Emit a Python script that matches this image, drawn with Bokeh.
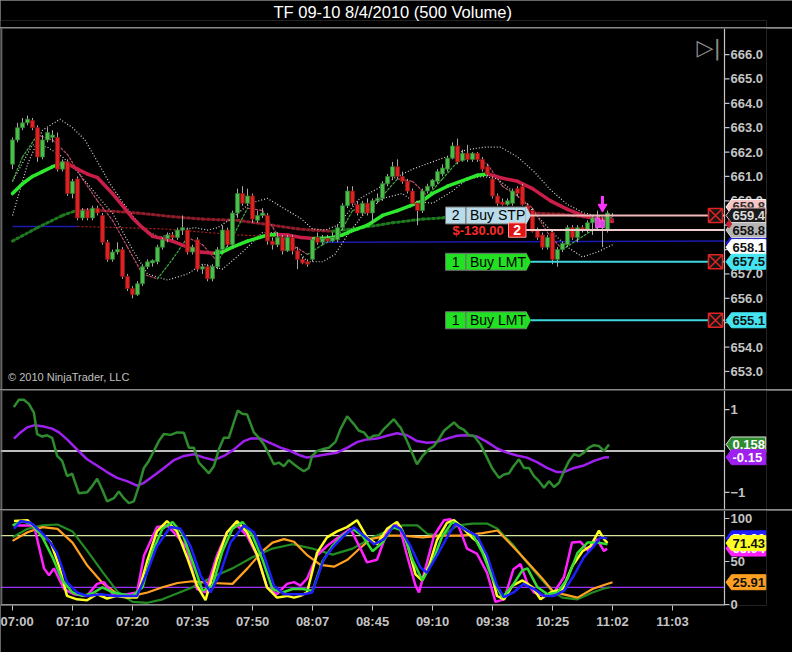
import math
from bokeh.plotting import figure
from bokeh.layouts import column
from bokeh.models import Range1d, FixedTicker, NumeralTickFormatter, Label, Span
from bokeh.core.properties import value
from bokeh.embed import file_html
from bokeh.resources import INLINE

TITLE = "TF 09-10  8/4/2010 (500 Volume)"

# ---------------- price bars (bar index 0..120) ----------------
bar_open = [661.5, 662.5, 663.0, 663.2, 663.3, 663.0, 661.8, 662.5, 662.6, 662.6,
            661.3, 661.6, 660.3, 660.9, 659.3, 659.6, 659.3, 659.7, 659.4, 658.3,
            657.6, 657.9, 658.0, 656.9, 656.4, 656.15, 656.6, 657.3, 657.45, 657.5,
            658.1, 658.45, 658.6, 658.5, 658.8, 658.8, 657.9, 658.4, 657.2, 657.3,
            656.8, 657.3, 658.0, 658.8, 658.2, 659.5, 660.3, 659.9, 660.2, 659.2,
            659.4, 659.4, 658.35, 658.2, 658.5, 657.95, 658.5, 657.95, 657.6, 657.5,
            657.6, 658.5, 658.3, 658.45, 658.35, 658.4, 658.9, 659.8, 660.4, 659.85,
            659.5, 659.9, 659.5, 660.0, 660.1, 660.7, 661.0, 661.4, 661.0, 660.8,
            660.4, 659.9, 659.6, 660.4, 660.6, 660.8, 661.1, 661.3, 661.75, 662.25,
            661.65, 661.95, 661.7, 661.95, 661.7, 661.4, 660.9, 660.2, 659.95, 659.85,
            659.9, 660.5, 660.6, 659.8, 659.6, 658.8, 658.6, 658.1, 658.7, 657.6,
            658.0, 658.2, 658.9, 658.5, 658.9, 658.8, 659.1, 659.3, 658.9, 658.8,
            659.4]
bar_high = [662.6, 663.2, 663.4, 663.5, 663.4, 663.1, 662.7, 663.0, 662.9, 662.8,
            661.7, 661.7, 660.9, 661.0, 659.7, 659.7, 659.8, 659.8, 659.5, 658.4,
            658.0, 658.3, 658.1, 657.0, 656.5, 656.7, 657.4, 657.6, 657.6, 658.2,
            658.5, 658.7, 658.7, 658.9, 659.4, 658.9, 658.2, 658.5, 657.4, 657.4,
            657.4, 658.1, 659.0, 658.9, 659.6, 660.5, 660.6, 660.5, 660.3, 659.6,
            659.7, 659.5, 658.5, 658.7, 658.6, 658.6, 658.6, 658.1, 657.7, 657.6,
            658.5, 658.7, 658.6, 658.6, 658.7, 659.0, 659.9, 660.6, 660.6, 660.0,
            660.0, 660.1, 660.1, 660.3, 660.8, 661.1, 661.6, 661.7, 661.2, 660.9,
            660.5, 660.0, 660.5, 660.7, 660.9, 661.3, 661.5, 661.8, 662.4, 662.55,
            662.1, 662.3, 662.0, 662.0, 661.8, 661.5, 661.0, 660.3, 660.1, 660.1,
            660.5, 660.6, 660.7, 659.9, 659.7, 658.9, 658.7, 658.6, 658.8, 658.1,
            658.3, 659.0, 659.0, 659.0, 659.0, 659.2, 659.4, 659.6, 659.3, 659.6,
            659.5]
bar_low = [661.3, 662.4, 662.9, 663.1, 662.9, 661.6, 661.7, 662.4, 662.4, 661.2,
           661.2, 660.2, 660.1, 659.2, 659.2, 659.2, 659.2, 659.4, 658.2, 657.5,
           657.5, 657.8, 656.8, 656.3, 656.0, 656.1, 656.5, 657.2, 657.3, 657.4,
           658.0, 658.3, 658.4, 658.4, 658.6, 657.8, 657.8, 657.1, 657.0, 656.7,
           656.7, 657.2, 657.9, 658.1, 658.1, 659.3, 659.8, 659.8, 659.1, 659.1,
           659.3, 658.2, 658.0, 658.1, 657.8, 657.9, 657.8, 657.2, 657.4, 657.3,
           657.5, 658.2, 658.2, 658.3, 658.3, 658.3, 658.8, 659.7, 659.8, 659.4,
           659.4, 659.4, 659.1, 659.9, 660.0, 660.6, 660.9, 660.9, 660.7, 660.3,
           659.8, 659.0, 659.5, 660.3, 660.5, 660.7, 661.0, 661.2, 661.7, 661.5,
           661.6, 661.6, 661.6, 661.6, 661.2, 661.0, 660.1, 659.8, 659.8, 659.8,
           659.8, 660.2, 659.8, 659.2, 658.7, 658.4, 658.0, 658.0, 657.4, 657.3,
           657.9, 658.1, 658.4, 658.3, 658.7, 658.7, 658.6, 658.8, 658.1, 658.7,
           659.35]
bar_close = [662.5, 663.0, 663.2, 663.35, 663.0, 661.8, 662.5, 662.8, 662.7, 661.3,
             661.6, 660.3, 660.8, 659.3, 659.6, 659.3, 659.7, 659.5, 658.3, 657.6,
             657.9, 658.0, 656.9, 656.4, 656.15, 656.6, 657.3, 657.5, 657.55, 658.1,
             658.4, 658.6, 658.5, 658.8, 658.9, 657.9, 658.1, 657.2, 657.3, 656.8,
             657.3, 658.0, 658.8, 658.2, 659.5, 660.3, 659.9, 660.2, 659.25, 659.4,
             659.5, 658.35, 658.2, 658.5, 657.95, 658.5, 657.95, 657.6, 657.45, 657.4,
             658.4, 658.3, 658.45, 658.35, 658.5, 658.9, 659.8, 660.4, 659.9, 659.5,
             659.9, 659.5, 660.0, 660.1, 660.7, 661.0, 661.4, 661.0, 660.8, 660.4,
             659.9, 659.6, 660.4, 660.6, 660.85, 661.2, 661.35, 661.75, 662.25, 661.6,
             661.95, 661.7, 661.95, 661.7, 661.3, 661.1, 660.2, 659.9, 659.85, 660.0,
             660.4, 660.3, 659.85, 659.3, 658.75, 658.5, 658.1, 658.5, 657.6, 658.0,
             658.25, 658.9, 658.5, 658.9, 658.8, 659.1, 659.3, 658.9, 659.2, 659.5,
             659.4]
highlight_bars = [117, 118]

# thick slope-coloured moving average
ma_x = [0, 2, 4, 6, 8, 10, 11, 13, 15, 17, 20, 22, 24, 26, 28, 30, 32, 35, 37.5, 40.5,
        42, 44, 47, 51, 53, 55, 57.6, 60.3, 62, 64, 66, 67.6, 69, 71, 74, 77, 79.6, 82,
        84, 87, 91, 93, 95, 97.6, 101, 104, 107.6, 111, 114, 117.6, 120]
ma_y = [660.3, 660.7, 661.0, 661.2, 661.4, 661.55, 661.52, 661.3, 661.1, 660.95, 660.3,
        659.8, 659.3, 658.9, 658.55, 658.45, 658.35, 658.1, 657.9, 657.85, 657.9, 658.1,
        658.35, 658.6, 658.62, 658.6, 658.5, 658.45, 658.46, 658.5, 658.6, 658.75, 658.85,
        659.0, 659.4, 659.6, 659.8, 660.0, 660.3, 660.6, 660.9, 661.05, 661.1, 660.95,
        660.8, 660.5, 660.0, 659.65, 659.4, 659.2, 659.15]
# thick dotted slow average
dma_x = [0, 5, 10, 13, 18, 25, 32, 38, 45, 52, 57, 60, 64, 70, 76, 82, 86, 90, 94, 98,
         104, 110, 116, 120]
dma_y = [658.35, 658.9, 659.4, 659.62, 659.6, 659.5, 659.35, 659.25, 659.2, 659.0, 658.85,
         658.8, 658.75, 658.9, 659.1, 659.25, 659.3, 659.45, 659.55, 659.6, 659.5, 659.45,
         659.3, 659.25]
# thin dotted fast average
fma_x = [0, 2, 5, 8, 11, 14, 17, 20, 23, 26, 29, 32, 35, 38, 41, 44, 47, 50, 53, 56, 59,
         62, 65, 68, 71, 74, 77, 80, 83, 86, 89, 92, 95, 98, 101, 104, 107, 110, 113, 116, 119]
fma_y = [660.8, 661.8, 662.7, 662.5, 661.9, 660.9, 660.0, 659.2, 658.1, 657.0, 656.8, 657.6,
         658.5, 658.2, 657.5, 658.5, 659.7, 659.6, 658.6, 658.2, 657.8, 658.2, 658.5, 659.6,
         659.8, 660.2, 660.9, 660.8, 660.2, 660.9, 661.6, 661.8, 661.5, 660.6, 660.2, 659.7,
         658.7, 658.0, 658.4, 658.8, 659.1]
# envelope bands
ub_x = [0, 3, 6, 9.5, 12, 14.5, 17, 19.5, 21.5, 24, 26.5, 29.5, 33.5, 36.5, 39, 41, 44,
        47.5, 51, 55, 57.5, 60, 62.5, 65, 67, 69.5, 73, 76.5, 80, 84, 88, 91, 94.3, 97.6,
        101, 104.3, 107.6, 111, 114.3, 117.6, 120]
ub_y = [659.4, 661.5, 662.9, 663.35, 663.0, 662.5, 661.6, 660.7, 660.1, 659.4, 658.8, 658.5,
        658.8, 658.9, 658.8, 658.9, 659.3, 659.9, 660.1, 659.6, 659.3, 658.85, 658.8, 659.0,
        659.5, 660.1, 660.5, 660.95, 661.3, 661.6, 661.9, 662.1, 662.2, 662.2, 661.8, 661.2,
        660.45, 659.85, 659.5, 659.35, 659.3]
lb_x = [0, 4, 7, 10, 13, 17, 20, 24, 27, 31, 35, 38, 42, 46, 50, 53, 56, 59, 62, 64.5, 67,
        70, 74, 78, 80, 84, 88, 91, 94, 97, 100, 104, 108, 111, 114, 117, 120]
lb_y = [660.8, 662.3, 662.2, 661.8, 661.2, 660.2, 659.5, 658.0, 657.0, 656.75, 657.0, 657.4,
        657.2, 657.9, 658.7, 658.7, 658.2, 657.5, 657.5, 657.8, 658.6, 659.4, 660.1, 660.3,
        660.0, 659.9, 660.4, 660.9, 661.0, 660.9, 660.4, 659.6, 658.7, 658.1, 657.7, 657.9,
        658.2]
# thin blue / red dotted reference lines
blue_xs = [[0, 13], [62, 142.4]]
blue_ys = [[658.95, 658.95], [658.3, 658.35]]
rd_x = [13, 30, 45, 62]
rd_y = [658.95, 658.85, 658.6, 658.45]

# orders / position
order_prices = [659.4, 657.5, 655.1]
order_qty = [2, 1, 1]
order_types = ["Buy STP", "Buy LMT", "Buy LMT"]
position_price = 658.8
position_qty = 2
position_pnl = -130.00
entry_bar = 118
entry_price = 659.75
hidden_tag = 659.75
blue_tag = 658.25
last_tag = 658.1
marker_price = 659.05

time_ticks = [0, 12, 24, 36, 48, 60, 72, 84, 96, 108, 120, 132]
time_labels = ["07:00", "07:10", "07:20", "07:35", "07:50", "08:07", "08:45",
               "09:10", "09:38", "10:25", "11:02", "11:03"]
price_ticks = [653.0, 654.0, 655.0, 656.0, 657.0, 658.0, 659.0, 660.0, 661.0,
               662.0, 663.0, 664.0, 665.0, 666.0]

# ---------------- oscillator panel ----------------
osc_x = [0.27, 1.27, 2.27, 3.27, 4.27, 4.93, 5.93, 6.93, 7.93, 8.93, 9.93, 10.93, 11.93,
         13.27, 14.93, 15.93, 16.93, 17.93, 18.93, 20.27, 21.27, 22.27, 23.27, 24.27, 25.27,
         26.27, 27.27, 28.27, 29.27, 30.27, 31.6, 32.93, 34.27, 35.27, 36.27, 37.27, 38.27,
         39.27, 40.27, 41.27, 42.27, 43.27, 44.27, 45.07, 45.93, 46.93, 48.27, 49.27, 50.27,
         51.27, 52.27, 53.27, 54.27, 55.27, 56.27, 57.27, 58.27, 59.27, 59.93, 60.93, 61.93,
         63.27, 64.6, 65.6, 66.93, 68.27, 69.27, 70.27, 71.27, 72.27, 73.27, 74.27, 75.27,
         76.27, 77.27, 77.6, 78.9, 79.9, 80.9, 82.0, 83.3, 84.3, 85.3, 86.3, 88.3, 89.3,
         90.3, 91.3, 92.3, 93.6, 94.9, 95.9, 97.3, 98.3, 99.3, 100.2, 101.3, 102.3, 103.3,
         104.3, 105.3, 106.3, 107.3, 108.3, 109.3, 110.3, 111.3, 112.3, 113.3, 114.3, 115.3,
         116.3, 117.3, 118.3, 119.3]
osc_y = [1.06, 1.24, 1.24, 1.14, 0.93, 0.41, 0.35, 0.38, 0.32, -0.12, -0.24, -0.61, -0.55,
         -1.02, -1.0, -0.85, -0.67, -0.93, -1.22, -1.14, -0.98, -1.14, -1.26, -1.22, -0.85,
         -0.41, -0.24, 0.0, 0.24, 0.41, 0.39, 0.45, 0.44, 0.08, 0.08, -0.28, -0.41, -0.54,
         -0.37, 0.04, 0.32, 0.32, 0.69, 0.98, 0.9, 0.88, 0.45, 0.32, 0.16, -0.08, -0.32,
         -0.28, -0.37, -0.22, -0.32, -0.41, -0.49, -0.41, -0.12, 0.0, 0.04, 0.08, 0.22, 0.53,
         0.84, 0.65, 0.49, 0.45, 0.30, 0.37, 0.38, 0.53, 0.65, 0.77, 0.61, 0.57, 0.24, -0.04,
         -0.32, -0.12, 0.04, 0.12, 0.29, 0.49, 0.69, 0.57, 0.51, 0.38, 0.37, 0.16, -0.16,
         -0.41, -0.65, -0.57, -0.54, -0.37, -0.2, -0.41, -0.41, -0.61, -0.73, -0.89, -0.73,
         -0.87, -0.77, -0.49, -0.24, -0.08, -0.12, -0.04, 0.08, 0.14, 0.12, 0.0, 0.158]
sig_x = [0.3, 1.6, 2.9, 4.3, 6.3, 7.9, 9.3, 10.9, 12.9, 14.9, 16.9, 18.9, 20.9, 22.9, 24.9,
         26.3, 28.3, 30.3, 32.3, 34.3, 36.3, 38.3, 40.3, 42.3, 44.3, 46.3, 47.6, 49.6, 51.6,
         53.6, 55.6, 57.6, 58.9, 60.9, 62.9, 64.9, 67, 69, 70.9, 72.9, 74.9, 76.9, 78.9,
         80.9, 82.9, 84.9, 86.9, 88.9, 90.9, 92.9, 94.9, 96.9, 98.9, 100.9, 102.9, 104.9,
         106.9, 108.9, 110.3, 112.3, 114.3, 116.3, 118.3, 119.3]
sig_y = [0.30, 0.45, 0.57, 0.62, 0.59, 0.54, 0.45, 0.28, 0.04, -0.2, -0.35, -0.51, -0.65,
         -0.73, -0.84, -0.77, -0.59, -0.41, -0.22, -0.12, -0.08, -0.16, -0.22, -0.12, 0.04,
         0.24, 0.30, 0.30, 0.19, 0.08, 0.0, -0.11, -0.16, -0.12, -0.08, -0.04, 0.08, 0.22,
         0.28, 0.30, 0.37, 0.43, 0.38, 0.24, 0.20, 0.22, 0.30, 0.37, 0.38, 0.35, 0.22, 0.06,
         -0.04, -0.11, -0.16, -0.27, -0.41, -0.51, -0.51, -0.41, -0.35, -0.24, -0.16, -0.15]
osc_levels = [0]
osc_ticks = [-1, 1]

# ---------------- stochastics panel ----------------
blue_x = [0.3, 1.6, 3.6, 5.6, 7.6, 8.9, 10.9, 12.9, 14.9, 17.6, 20.3, 22.9, 24.9, 26.9, 28.9,
          31.6, 33.6, 35.6, 37.6, 39.6, 41.6, 43.6, 46.3, 48.3, 50.3, 52.3, 54.3, 56.3, 58.3,
          59.9, 62.3, 64.3, 66.3, 68.3, 70.3, 72.3, 74.3, 76.3, 77.6, 79.6, 81.6, 82.9, 84.9,
          86.9, 88.6, 90.9, 92.9, 94.9, 96.9, 98.3, 100.2, 102.2, 104.3, 106.3, 108.3, 110.3,
          112.3, 114.3, 116.3, 117.6, 118.9]
blue_v = [88, 97, 95, 85, 72, 60, 26, 14, 10, 12, 10, 10, 10, 37, 68, 90, 88, 68, 34, 14,
          37, 72, 92, 84, 57, 22, 12, 12, 12, 14, 53, 68, 80, 90, 80, 70, 76, 92, 88, 68,
          43, 37, 57, 78, 94, 86, 80, 57, 22, 8.5, 14, 24, 18, 10, 10, 16, 34, 55, 68, 78, 76.9]
mag_x = [0.3, 4.3, 6.3, 7.3, 8.3, 10.3, 12.3, 14.9, 16.9, 18.3, 20.3, 22.9, 24.9, 26.3, 28.9,
         30.9, 32.9, 34.9, 36.9, 38.6, 40.9, 42.9, 44.9, 46.9, 48.9, 50.9, 52.9, 54.9, 56.3,
         57.6, 58.9, 60.9, 62.9, 65.6, 67.6, 69.6, 70.9, 72.9, 74.9, 76.9, 77.6, 78.9, 80.6,
         81.3, 82.9, 84.3, 86.3, 87.6, 89.3, 90.9, 92.9, 94.9, 96.6, 98.3, 100.2, 101.6,
         102.9, 104.3, 106.3, 108.3, 110.3, 111.9, 113.6, 115.2, 116.9, 118.3, 118.9]
mag_v = [92, 92, 42, 34, 42, 18, 12, 10, 24, 26, 10, 12, 14, 57, 90, 92, 80, 65, 18, 14,
         57, 84, 92, 80, 57, 20, 12, 24, 26, 22, 30, 57, 68, 80, 88, 65, 49, 52, 84, 94,
         86, 57, 22, 14, 49, 80, 98, 99, 90, 65, 59, 37, 3, 6, 41, 47, 26, 14, 10, 14,
         32, 72, 73, 62, 76, 62, 65.04]
yel_x = [0.3, 3, 5.6, 7.6, 9.3, 10.9, 12.9, 14.9, 16.9, 18.9, 20.9, 22.9, 24.9, 26.9, 28.9,
         30.9, 32.9, 34.9, 36.9, 38.6, 40.9, 42.9, 44.9, 46.9, 48.9, 50.9, 52.9, 54.9, 56.3,
         57.6, 58.9, 60.9, 62.9, 64.9, 66.9, 68.9, 70.9, 72.9, 74.9, 76.9, 77.6, 78.9, 80.6,
         81.9, 83.3, 84.9, 86.9, 88.3, 89.9, 91.9, 93.6, 95.6, 96.9, 98.3, 100, 102, 104,
         105.6, 107.6, 110, 112, 114, 115.6, 117.3, 118.3, 119]
yel_v = [97, 98, 82, 73, 45, 10, 6, 5, 12, 7, 10, 8, 8, 50, 85, 97, 85, 55, 22, 5,
         52, 84, 97, 84, 58, 20, 8, 10, 8, 10, 14, 60, 78, 85, 90, 98, 78, 70, 88, 96,
         90, 72, 35, 28, 45, 75, 95, 98, 90, 78, 70, 40, 10, 6, 22, 28, 20, 6, 14, 18,
         45, 62, 68, 86, 76, 71.43]
grn_x = [0, 2, 4, 6, 8, 10, 12, 14, 16, 18, 20, 22, 24, 26, 28, 30, 32, 34, 36, 38, 40, 42,
         44, 46, 48, 50, 52, 54, 56, 58, 60, 62, 64, 66, 68, 70, 72, 74, 76, 78, 80, 82, 84,
         86, 88, 90, 92, 94, 96, 98, 100, 102, 103, 105, 107, 109, 111, 113, 115, 117, 119]
grn_v = [92, 97, 93, 78, 55, 28, 14, 10, 13, 20, 14, 12, 10, 20, 62, 88, 96, 82, 50, 16,
         22, 62, 88, 96, 80, 52, 18, 14, 18, 18, 16, 50, 68, 80, 88, 80, 62, 72, 90, 86,
         52, 28, 50, 80, 96, 90, 82, 60, 30, 8, 22, 40, 42, 20, 12, 14, 30, 60, 72, 72, 70]
org_x = [0, 3, 6, 9, 12, 15, 18, 21, 24, 27, 30, 33, 36, 40, 44, 47, 50, 52, 54.3, 56.3,
         59, 61.6, 64.3, 67, 69.6, 71.6, 75, 78, 82, 86, 90, 94, 97, 100, 103, 106, 108,
         110, 113, 116, 118, 120]
org_v = [74, 84, 90, 88, 72, 45, 25, 12, 10, 14, 20, 25, 27, 25, 24, 42, 62, 72, 76, 73,
         57, 46, 44, 52, 66, 76, 80, 80, 78, 80, 80, 83, 86, 68, 49, 30, 16, 12, 8, 18,
         22, 25.91]
dg_x = [0, 3, 6, 9, 12, 15, 18, 21, 24, 27, 30, 33, 36, 40, 44, 48, 52, 56, 60, 64, 68,
        72, 76, 78, 81, 83, 86, 89, 92, 95, 97, 100, 103, 106, 108, 110, 113, 116, 118, 119.5]
dg_v = [78, 88, 92, 93, 85, 62, 38, 15, 3, 2, 6, 13, 20, 32, 42, 55, 65, 70, 65, 58, 65,
        78, 88, 92, 92, 82, 80, 92, 94, 94, 88, 70, 48, 28, 15, 8, 6, 14, 18, 20]
stoch_levels = [80, 20]
stoch_ticks = [0, 50, 100]

# ---------------- layout constants ----------------
W = 792
X0 = -2.4          # left edge of frame (bar units)
XA = 142.4         # price-axis line position (bar units)
XF = 150.8         # right edge of frame (bar units)
PXB = 5            # pixels per bar
RB = W - int(round((XF - X0) * PXB))
FONT = "Liberation Sans"
AXC = "#c4c4c4"
xr = Range1d(X0, XF)


def style(p, ticks):
    p.background_fill_color = "black"
    p.border_fill_color = "black"
    p.outline_line_color = None
    p.grid.grid_line_color = None
    p.min_border_left = 0
    p.min_border_right = RB
    p.min_border_top = 0
    p.min_border_bottom = 0
    ax = p.yaxis[0]
    ax.ticker = FixedTicker(ticks=ticks)
    ax.axis_line_color = None
    ax.major_tick_line_color = None
    ax.major_tick_out = 0
    ax.major_tick_in = 0
    ax.minor_tick_line_color = None
    ax.major_label_text_color = AXC
    ax.major_label_text_font = FONT
    ax.major_label_text_font_size = "13px"
    ax.major_label_text_font_style = "bold"
    ax.major_label_standoff = -int(round((XF - XA) * PXB)) + 6
    # panel's left border line, visible axis line and tick marks at the price scale
    p.add_layout(Span(location=X0 + 0.25, dimension="height", line_color="#8a8a8a",
                      line_width=1))
    p.add_layout(Span(location=XA, dimension="height", line_color=AXC, line_width=1.2))
    p.segment(x0=[XA] * len(ticks), x1=[XA + 1.0] * len(ticks), y0=ticks, y1=ticks,
              line_color=AXC, line_width=1.2)


def tag(p, y, text, fill, color, border, ppu):
    h = 15.0 / ppu
    xs = [XA + 0.3, XA + 1.4, XF - 0.15, XF - 0.15, XA + 1.4]
    ys = [y, y + h / 2, y + h / 2, y - h / 2, y - h / 2]
    p.patch(xs, ys, fill_color=fill, line_color=border, line_width=1, level="overlay")
    p.text(x=[XA + 1.6], y=[y], text=[text], text_align="left", text_baseline="middle",
           text_font=value(FONT), text_font_size="13px", text_font_style="bold",
           text_color=color, level="overlay")


def slope_segments(p, xs, ys, up, down, width, dash="solid"):
    x0, x1, y0, y1 = xs[:-1], xs[1:], ys[:-1], ys[1:]
    cols = [up if b >= a else down for a, b in zip(y0, y1)]
    p.segment(x0=x0, y0=y0, x1=x1, y1=y1, line_color=cols, line_width=width,
              line_dash=dash, line_cap="round")


# ---- title strip ----
tf = figure(width=W, height=27, title=TITLE, toolbar_location=None,
            x_axis_location=None, y_axis_location=None, output_backend="svg",
            min_border=0)
tf.background_fill_color = "black"
tf.border_fill_color = "black"
tf.outline_line_color = None
tf.grid.grid_line_color = None
tf.title.align = "left"
tf.title.text_color = "white"
tf.title.text_font = FONT
tf.title.text_font_size = "16.5px"
tf.title.text_font_style = "normal"
tf.title.standoff = 0
tf.title.offset = 273

# ---- price panel ----
Y1 = (652.26, 667.07)
H1 = 361
PPU1 = H1 / (Y1[1] - Y1[0])
p1 = figure(width=W, height=H1, x_range=xr, y_range=Range1d(*Y1),
            toolbar_location=None, x_axis_location=None, y_axis_location="right",
            output_backend="svg")
style(p1, price_ticks)
p1.yaxis.formatter = NumeralTickFormatter(format="0.0")

idx = list(range(len(bar_close)))
tops = [max(o, c) for o, c in zip(bar_open, bar_close)]
bots = [min(o, c) for o, c in zip(bar_open, bar_close)]
fills, lines = [], []
for i, (o, c) in enumerate(zip(bar_open, bar_close)):
    if i in highlight_bars:
        fills.append("#e040e0"); lines.append("#ff60ff")
    elif c >= o:
        fills.append("#4cbf4c"); lines.append("#2f7f2f")
    else:
        fills.append("#e02222"); lines.append("#8a1515")

# indicator lines behind candles
p1.multi_line(xs=blue_xs, ys=blue_ys, line_color="#1a1ab0", line_width=1.5)
p1.line(rd_x, rd_y, line_color="#b02020", line_width=1.2, line_dash="2 2")
slope_segments(p1, dma_x, dma_y, "#1f7a1f", "#8e1c2a", 3, "2 3")
p1.line(ub_x, ub_y, line_color="#d8d8d8", line_width=1.2, line_dash="1 2")
p1.line(lb_x, lb_y, line_color="#d8d8d8", line_width=1.2, line_dash="1 2")
slope_segments(p1, fma_x, fma_y, "#3fae3f", "#c0506a", 1.2, "2 2")
slope_segments(p1, ma_x, ma_y, "#2ee82e", "#c81e48", 3.5)

p1.segment(x0=idx, x1=idx, y0=bar_low, y1=bar_high, line_color="#a8a8a8", line_width=1)
p1.vbar(x=idx, width=0.78, top=tops, bottom=bots, fill_color=fills, line_color=lines,
        line_width=0.8)

# entry arrow
p1.segment(x0=[entry_bar], x1=[entry_bar], y0=[entry_price + 0.45], y1=[entry_price + 0.1],
           line_color="#ff33ff", line_width=3)
p1.scatter(x=[entry_bar], y=[entry_price], marker="inverted_triangle", size=9,
           fill_color="#ff33ff", line_color="#ff33ff")

# orders and position
BOX_L, BOX_DIV, BOX_R, TIP = 86.6, 90.7, 102.7, 103.6
XMARK = 140.6
HB = 17.0 / PPU1
n = len(order_prices)
lbl_fill = ["#b8dcea" if t.endswith("STP") else "#22e022" for t in order_types]
line_cols = ["#f2b8b8" if t.endswith("STP") else "#3fd6e0" for t in order_types]
p1.segment(x0=[TIP] * n, x1=[XA] * n, y0=order_prices, y1=order_prices,
           line_color=line_cols, line_width=2)
p1.segment(x0=[BOX_R], x1=[XA], y0=[position_price], y1=[position_price],
           line_color="#f0cccc", line_width=2)
p1.quad(left=[BOX_L] * n, right=[BOX_DIV] * n,
        top=[pr + HB / 2 for pr in order_prices], bottom=[pr - HB / 2 for pr in order_prices],
        fill_color=lbl_fill, line_color="#707070", line_width=1)
p1.quad(left=[BOX_DIV] * n, right=[BOX_R] * n,
        top=[pr + HB / 2 for pr in order_prices], bottom=[pr - HB / 2 for pr in order_prices],
        fill_color=lbl_fill, line_color="#707070", line_width=1)
p1.patches(xs=[[BOX_R, TIP, BOX_R] for _ in order_prices],
           ys=[[pr + HB / 2, pr, pr - HB / 2] for pr in order_prices],
           fill_color=lbl_fill, line_color=lbl_fill)
p1.text(x=[(BOX_L + BOX_DIV) / 2] * n, y=order_prices, text=[str(q) for q in order_qty],
        text_align="center", text_baseline="middle", text_font=value(FONT),
        text_font_size="14px", text_color="black")
p1.text(x=[BOX_DIV + 0.8] * n, y=order_prices, text=order_types,
        text_align="left", text_baseline="middle", text_font=value(FONT),
        text_font_size="14px", text_color="black")
p1.text(x=[88.0], y=[position_price], text=[f"$-{abs(position_pnl):.2f}"],
        text_align="left", text_baseline="middle", text_font=value(FONT),
        text_font_size="13px", text_font_style="bold", text_color="#ff2a2a")
p1.quad(left=[99.2], right=[BOX_R], top=[position_price + HB * 0.42],
        bottom=[position_price - HB * 0.42], fill_color="#e01414", line_color="#ff9a9a")
p1.text(x=[(99.2 + BOX_R) / 2], y=[position_price], text=[str(position_qty)],
        text_align="center", text_baseline="middle", text_font=value(FONT),
        text_font_size="14px", text_font_style="bold", text_color="white")
p1.scatter(x=[XMARK] * n, y=order_prices, marker="square_x", size=14,
           fill_color="#151515", line_color="#e02222", line_width=1.6)

# price-scale tags
tag(p1, hidden_tag, f"{hidden_tag:.1f}", "#f6c6c6", "#303030", "#ffffff", PPU1)
tag(p1, order_prices[0], f"{order_prices[0]:.1f}", "#1a1a1a", "#dcdcdc", "#f2c0c0", PPU1)
tag(p1, blue_tag, f"{blue_tag:.1f}", "#1a1ad0", "#ffffff", "#1a1ad0", PPU1)
tag(p1, position_price, f"{position_price:.1f}", "#b4b4b4", "#101010", "#dcdcdc", PPU1)
tag(p1, last_tag, f"{last_tag:.1f}", "#ffffff", "#101010", "#ffffff", PPU1)
tag(p1, order_prices[1], f"{order_prices[1]:.1f}", "#44e4f0", "#101010", "#44e4f0", PPU1)
tag(p1, order_prices[2], f"{order_prices[2]:.1f}", "#44e4f0", "#101010", "#44e4f0", PPU1)
p1.scatter(x=[XA + 0.9], y=[marker_price], marker="diamond", size=8,
           fill_color="#c02030", line_color="#c02030", level="overlay")

p1.add_layout(Label(x=X0 + 1.5, y=Y1[0] + 0.25, text="© 2010 NinjaTrader, LLC",
                    text_align="left", text_baseline="bottom", text_font=FONT,
                    text_font_size="11px", text_color="#c0c0c0"))
p1.add_layout(Label(x=136.8, y=666.3, text="▷|", text_align="left", text_baseline="middle",
                    text_font="DejaVu Sans", text_font_size="22px", text_color="#8c8c8c"))

# ---- oscillator panel ----
Y2 = (-1.415, 1.463)
H2 = 119
PPU2 = H2 / (Y2[1] - Y2[0])
p2 = figure(width=W, height=H2, x_range=xr, y_range=Range1d(*Y2),
            toolbar_location=None, x_axis_location=None, y_axis_location="right",
            output_backend="svg")
style(p2, osc_ticks)
for lv in osc_levels:
    p2.segment(x0=[X0], x1=[XA], y0=[lv], y1=[lv], line_color="white", line_width=1.5)
p2.line(sig_x, sig_y, line_color="#a020f0", line_width=2.5)
p2.line(osc_x, osc_y, line_color="#2e8b2e", line_width=2.5)
tag(p2, osc_y[-1], f"{osc_y[-1]:.3f}", "#2e8b2e", "#ffffff", "#e0e0e0", PPU2)
tag(p2, sig_y[-1], f"{sig_y[-1]:.2f}", "#a020f0", "#ffffff", "#a020f0", PPU2)

# ---- stochastics panel ----
Y3 = (-1.16, 109.3)
F3 = 95
PPU3 = F3 / (Y3[1] - Y3[0])
p3 = figure(width=W, height=F3 + 47, x_range=xr, y_range=Range1d(*Y3),
            toolbar_location=None, y_axis_location="right", output_backend="svg")
style(p3, stoch_ticks)
p3.min_border_bottom = 47
ax = p3.xaxis[0]
ax.ticker = FixedTicker(ticks=time_ticks)
ax.major_label_overrides = {t: l for t, l in zip(time_ticks, time_labels)}
ax.axis_line_color = None
ax.major_tick_line_color = AXC
ax.major_tick_out = 5
ax.major_tick_in = 0
ax.minor_tick_line_color = None
ax.major_label_text_color = AXC
ax.major_label_text_font = FONT
ax.major_label_text_font_size = "13px"
ax.major_label_text_font_style = "bold"
ax.major_label_standoff = 3
p3.segment(x0=[X0], x1=[XA], y0=[Y3[0] + 0.6], y1=[Y3[0] + 0.6], line_color=AXC,
           line_width=1.5)
level_cols = ["#d6e6a0", "#9b30ff"]
for lv, c in zip(stoch_levels, level_cols):
    p3.segment(x0=[X0], x1=[XA], y0=[lv], y1=[lv], line_color=c, line_width=1.3)
p3.line(dg_x, dg_v, line_color="#228b22", line_width=2.2)
p3.line(org_x, org_v, line_color="#ffa020", line_width=2.2)
p3.line(mag_x, mag_v, line_color="#ff22ff", line_width=2.5)
p3.line(yel_x, yel_v, line_color="#ffff22", line_width=2.5)
p3.line(grn_x, grn_v, line_color="#33dd33", line_width=2.5)
p3.line(blue_x, blue_v, line_color="#1e1eff", line_width=2.5)
tag(p3, blue_v[-1], f"{blue_v[-1]:.2f}", "#1e1eff", "#ffffff", "#1e1eff", PPU3)
tag(p3, mag_v[-1], f"{mag_v[-1]:.2f}", "#ff22ff", "#ffffff", "#ff22ff", PPU3)
tag(p3, yel_v[-1], f"{yel_v[-1]:.2f}", "#ffff22", "#101010", "#ffff22", PPU3)
tag(p3, org_v[-1], f"{org_v[-1]:.2f}", "#ffa020", "#101010", "#ffa020", PPU3)

layout = column(tf, p1, p2, p3, spacing=1, styles={"background-color": "#8a8a8a"})

html = file_html(layout, INLINE, title="TF 09-10")
html = html.replace("<body>", '<body style="background-color:#000000;">', 1)
open("out.html", "w").write(html)
